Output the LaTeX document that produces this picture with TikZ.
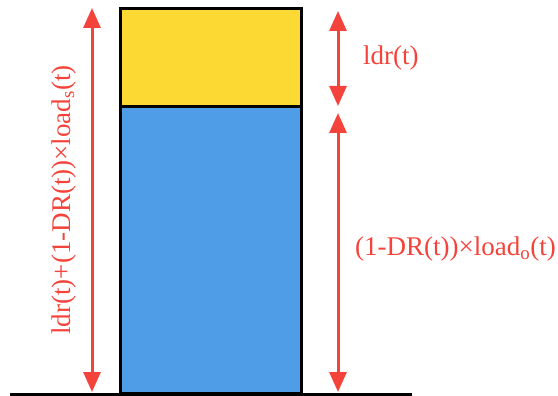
\documentclass[tikz,border=0pt]{standalone}
\usepackage{fontspec}
\setmainfont{Liberation Serif}
\usetikzlibrary{arrows.meta}
\definecolor{barYellow}{HTML}{FDDA33}
\definecolor{barBlue}{HTML}{4E9DE6}
\definecolor{dimRed}{HTML}{F4433A}
\tikzset{
  dimarrow/.style={dimRed, line width=3pt, {Triangle[length=20pt,width=17pt]}-{Triangle[length=20pt,width=17pt]}},
  dimlabel/.style={text=dimRed, font=\fontsize{27}{32}\selectfont, inner sep=0pt}
}
\begin{document}
\begin{tikzpicture}[x=1pt,y=-1pt]
                \useasboundingbox (0,0) rectangle (558,396);
                \coordinate (topL) at (120,9);
                \coordinate (midR) at (301,107);
                \coordinate (botR) at (301,393);
                \draw[line width=3pt, fill=barBlue] (120,107) rectangle (botR);
                \draw[line width=3pt, fill=barYellow] (topL) rectangle (midR);
                \draw[line width=3.5pt] (10,394.5) -- (412,394.5);
                % dimension arrows
                \coordinate (lTop) at (92,8);
                \coordinate (lBot) at (92,392);
                \coordinate (rTop) at (338,11);
                \coordinate (rMid) at (338,106);
                \coordinate (rMid2) at (338,113);
                \coordinate (rBot) at (338,392);
                \draw[dimarrow] (lTop) -- (lBot);
                \draw[dimarrow] (rTop) -- (rMid);
                \draw[dimarrow] (rMid2) -- (rBot);
                \node[dimlabel, rotate=90] (totLabel) at (64,200) {ldr(t)+(1-DR(t))×load\textsubscript{s}(t)};
                \node[dimlabel, anchor=west] (ldrLabel) at (363,58) {ldr(t)};
                \node[dimlabel, anchor=west] (loadLabel) at (355,249) {(1-DR(t))×load\textsubscript{o}(t)};
            \end{tikzpicture}
\end{document}
